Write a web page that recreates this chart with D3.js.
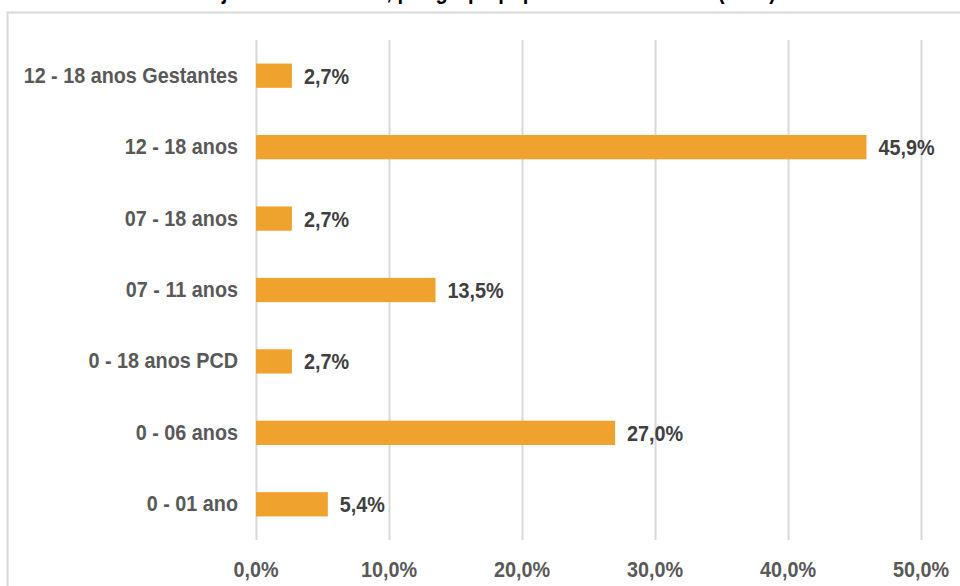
<!DOCTYPE html>
<html lang="pt">
<head>
	<meta charset="utf-8">
	<title>Projetos por grupo</title>
	<script src="https://d3js.org/d3.v7.min.js"></script>
	<style>
		body { margin: 0; background: #fff; }
		svg { display: block; }
		text { font-family: "Liberation Sans", Arial, sans-serif; font-weight: bold; }
		.grid line { stroke: #d9d9d9; stroke-width: 2; }
		.grid path { display: none; }
	</style>
</head>
<body>
	<script>
		// data (top to bottom in the chart)
		var categories = ["12 - 18 anos Gestantes", "12 - 18 anos", "07 - 18 anos", "07 - 11 anos", "0 - 18 anos PCD", "0 - 06 anos", "0 - 01 ano"];
		var values = [2.7, 45.9, 2.7, 13.5, 2.7, 27.0, 5.4];
		var tickValues = [0, 10, 20, 30, 40, 50];

		var w = 960, h = 586;
		var plotLeft = 256, plotRight = 921, plotTop = 40, plotBottom = 540;
		var squeeze = 0.9; // narrow look of the labels

		var fmt = function(d){ return d.toFixed(1).replace(".", ",") + "%"; };

		var svg = d3.select("body").append("svg")
			.attr("width", w)
			.attr("height", h);

		// title, mostly cut off above the frame
		svg.append("text")
			.attr("transform", "translate(482,-1) scale(0.84,1)")
			.attr("text-anchor", "middle")
			.attr("font-size", 24)
			.attr("fill", "#000")
			.text("Projetos financiados, por grupo populacional atendido (2018)");

		// chart frame
		svg.append("rect")
			.attr("x", 7.5)
			.attr("y", 12.5)
			.attr("width", 1000)
			.attr("height", 1000)
			.attr("fill", "none")
			.attr("stroke", "#d9d9d9")
			.attr("stroke-width", 2);

		var x = d3.scaleLinear().domain([0, 50]).range([plotLeft, plotRight]);
		var y = d3.scaleBand().domain(categories).range([plotTop, plotBottom]).paddingInner(0.66).paddingOuter(0.33);

		// vertical gridlines
		svg.append("g")
			.attr("class", "grid")
			.attr("transform", "translate(0," + plotBottom + ")")
			.call(d3.axisBottom(x).tickValues(tickValues).tickSize(-(plotBottom - plotTop)).tickFormat(""));

		// bars
		svg.selectAll("rect.bar")
			.data(values)
			.enter()
			.append("rect")
			.attr("class", "bar")
			.attr("x", x(0))
			.attr("y", function(d, i){ return y(categories[i]); })
			.attr("width", function(d){ return x(d) - x(0); })
			.attr("height", y.bandwidth())
			.attr("fill", "#f0a22f");

		// value labels
		svg.selectAll("text.val")
			.data(values)
			.enter()
			.append("text")
			.attr("class", "val")
			.attr("transform", function(d, i){
				return "translate(" + (x(d) + 12) + "," + (y(categories[i]) + y.bandwidth() / 2 + 8) + ") scale(" + squeeze + ",1)";
			})
			.attr("font-size", 22)
			.attr("fill", "#404040")
			.text(fmt);

		// category labels
		svg.selectAll("text.cat")
			.data(categories)
			.enter()
			.append("text")
			.attr("class", "cat")
			.attr("transform", function(d){
				return "translate(238," + (y(d) + y.bandwidth() / 2 + 7) + ") scale(" + squeeze + ",1)";
			})
			.attr("text-anchor", "end")
			.attr("font-size", 22)
			.attr("fill", "#595959")
			.text(function(d){ return d; });

		// x tick labels
		svg.selectAll("text.tick")
			.data(tickValues)
			.enter()
			.append("text")
			.attr("class", "tick")
			.attr("transform", function(d){ return "translate(" + x(d) + ",577) scale(" + squeeze + ",1)"; })
			.attr("text-anchor", "middle")
			.attr("font-size", 22)
			.attr("fill", "#595959")
			.text(fmt);
	</script>
</body>
</html>
